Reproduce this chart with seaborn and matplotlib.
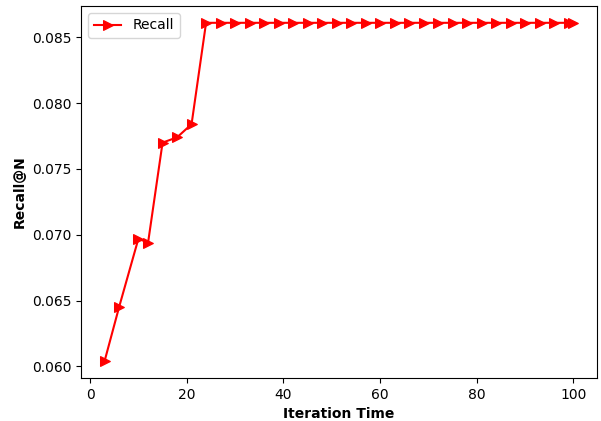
import matplotlib
matplotlib.use("Agg")
import matplotlib.pyplot as plt
import seaborn as sns
import pandas as pd

# Recall@N measured at each iteration checkpoint
iterations = [3, 6, 10, 12, 15, 18, 21, 24] + list(range(27, 100, 3)) + [100]
recall = [0.0604, 0.0645, 0.0697, 0.0694, 0.0770, 0.0774, 0.0784, 0.0861] + \
         [0.0861] * (len(range(27, 100, 3)) + 1)

df = pd.DataFrame({"Iteration Time": iterations, "Recall@N": recall})

plt.rcParams["font.family"] = ["DejaVu Sans"]
fig, ax = plt.subplots(figsize=(6.01, 4.21), dpi=100)
fig.subplots_adjust(left=0.135, right=0.993, top=0.986, bottom=0.102)

sns.lineplot(data=df, x="Iteration Time", y="Recall@N", ax=ax, color="red",
             marker=">", markersize=6.5, markeredgecolor="red", linewidth=1.5,
             label="Recall")

ax.set_xlabel("Iteration Time", fontweight="bold")
ax.set_ylabel("Recall@N", fontweight="bold")
ax.set_yticks([0.060, 0.065, 0.070, 0.075, 0.080, 0.085])
ax.set_xticks([0, 20, 40, 60, 80, 100])
ax.legend(loc="upper left")

fig.savefig("out.png", dpi=100)
